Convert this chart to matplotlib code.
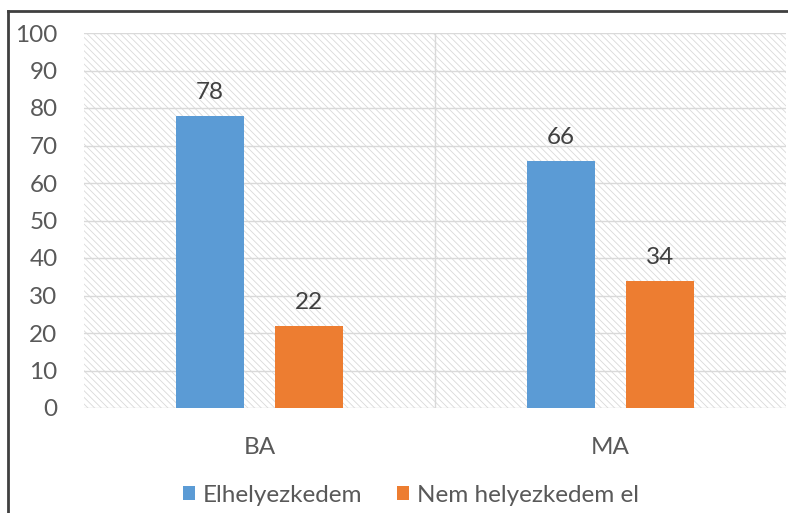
import matplotlib
matplotlib.use("Agg")
import matplotlib.pyplot as plt
from matplotlib.lines import Line2D
from matplotlib.patches import Patch
import numpy as np

categories = ["BA", "MA"]
series_names = ["Elhelyezkedem", "Nem helyezkedem el"]
elhelyezkedem = [78, 66]
nem_helyezkedem = [22, 34]
yticks = [0, 10, 20, 30, 40, 50, 60, 70, 80, 90, 100]

plt.rcParams['font.family'] = ['Lato', 'DejaVu Sans']
plt.rcParams['hatch.color'] = '#dadada'
plt.rcParams['hatch.linewidth'] = 0.6

TEXT = '#595959'
BLUE = '#5B9BD5'
ORANGE = '#ED7D31'
GRID = '#d9d9d9'
FS = 17.5

W, H = 788, 513
fig = plt.figure(figsize=(W / 100, H / 100), dpi=100)
left, right, top, bottom = 84, 786, 33, 408
ax = fig.add_axes([left / W, 1 - bottom / H, (right - left) / W, (bottom - top) / H])

ax.patch.set_facecolor('white')
ax.patch.set_hatch('\\\\\\\\\\')
ax.patch.set_edgecolor(GRID)

x = np.arange(len(categories))
width = 0.193
off = 0.1405
b1 = ax.bar(x - off, elhelyezkedem, width, color=BLUE, zorder=3, label=series_names[0])
b2 = ax.bar(x + off, nem_helyezkedem, width, color=ORANGE, zorder=3, label=series_names[1])

for bars, vals in ((b1, elhelyezkedem), (b2, nem_helyezkedem)):
    for rect, v in zip(bars, vals):
        ax.annotate(str(v), (rect.get_x() + rect.get_width() / 2, v),
                    xytext=(0, 9), textcoords='offset points',
                    ha='center', va='bottom', fontsize=FS, color='#404040', zorder=4)

ax.set_xlim(-0.5, len(categories) - 0.5)
ax.set_ylim(0, 100)
ax.set_yticks(yticks)
ax.set_yticklabels([str(t) for t in yticks])
ax.set_xticks(x)
ax.set_xticklabels(categories)
ax.tick_params(axis='y', length=0, pad=19, labelsize=FS, labelcolor=TEXT)
ax.tick_params(axis='x', length=0, pad=21, labelsize=FS, labelcolor=TEXT)

for t in yticks:
    ax.axhline(t, color=GRID, lw=1.0, zorder=1)
for b in np.arange(0.5, len(categories) - 0.5, 1.0):
    ax.axvline(b, color=GRID, lw=1.0, zorder=1)

for s in ax.spines.values():
    s.set_visible(False)

# chart border (top and left visible)
fig.add_artist(Line2D([8 / W, 8 / W], [0, 1 - 11 / H], color='#404040', lw=2, transform=fig.transFigure))
fig.add_artist(Line2D([8 / W, 1], [1 - 11 / H, 1 - 11 / H], color='#404040', lw=2, transform=fig.transFigure))

handles = [Patch(facecolor=BLUE, edgecolor='none'), Patch(facecolor=ORANGE, edgecolor='none')]
leg = fig.legend(handles, series_names, loc='center', bbox_to_anchor=(411 / W, 1 - 495 / H),
                 ncol=2, frameon=False, fontsize=FS, handlelength=0.5, handleheight=0.55,
                 handletextpad=0.35, columnspacing=1.4, labelcolor=TEXT)

fig.savefig('out.png', dpi=100)
